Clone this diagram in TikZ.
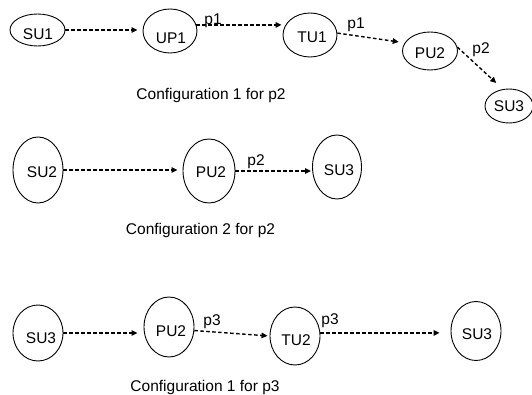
\documentclass[tikz,border=0pt]{standalone}
\usepackage{fontspec}
\setmainfont{Liberation Sans}
\usetikzlibrary{shapes.geometric,arrows.meta}
\begin{document}
\begin{tikzpicture}[x=1pt,y=-1pt,
  font=\fontsize{15.5}{18}\selectfont,
  unit/.style 2 args={draw, ellipse, line width=0.9pt, minimum width=#1pt,
    minimum height=#2pt, inner sep=0pt},
  txt/.style={anchor=base, inner sep=0pt},
  flow/.style={line width=1.4pt, dash pattern=on 3.5pt off 2.5pt,
    -{Triangle[length=6pt,width=5.5pt]}}]
\useasboundingbox (0,0) rectangle (532,395);

% ---- Configuration 1 for p2 ----
\node[unit={55}{32}] (su1) at (37.5,30) {};
\node[unit={54}{44}] (up1) at (170,31) {};
\node[unit={54}{44}] (tu1) at (310,35) {};
\node[unit={55}{38}] (pu2a) at (430,51) {};
\node[unit={48}{34}] (su3a) at (509,106) {};
\node[txt] (su1t) at (38,40) {SU1};
\node[txt] (up1t) at (171,43.5) {UP1};
\node[txt] (tu1t) at (312,42.5) {TU1};
\node[txt] (pu2at) at (430,58.5) {PU2};
\node[txt] (su3at) at (509,111.5) {SU3};

\draw[flow, shorten >=5pt] (su1.east) -- (su1.east -| up1.west);
\draw[flow, shorten >=1pt] (up1.13) -- (up1.13 -| tu1.west);
\draw[flow, shorten >=6pt] (tu1.4) -- (pu2a.162);
\draw[flow, shorten >=9pt] (pu2a.8) -- (su3a.110);
\node[txt] (l1) at (213,24.5) {p1};
\node[txt] (l2) at (356,29) {p1};
\node[txt] (l3) at (481,54) {p2};
\node[txt] (cap1) at (211,100) {Configuration 1 for p2};

% ---- Configuration 2 for p2 ----
\node[unit={50}{66}] (su2) at (38,170) {};
\node[unit={52}{64}] (pu2b) at (209,171) {};
\node[unit={49}{64}] (su3b) at (337,167) {};
\node[txt] (su2t) at (42,177.5) {SU2};
\node[txt] (pu2bt) at (211,177.5) {PU2};
\node[txt] (su3bt) at (339,175.5) {SU3};

\draw[flow, shorten >=5pt] (su2.east) -- (su2.east -| pu2b.west);
\draw[flow, shorten >=1pt] (pu2b.east) -- (pu2b.east -| su3b.west);
\node[txt] (l4) at (256,166) {p2};
\node[txt] (cap2) at (200.5,234) {Configuration 2 for p2};

% ---- Configuration 1 for p3 ----
\node[unit={50}{56}] (su3c) at (38,333) {};
\node[unit={50}{60}] (pu2c) at (169,327) {};
\node[unit={50}{58}] (tu2) at (295,336) {};
\node[unit={50}{59}] (su3d) at (476,331) {};
\node[txt] (su3ct) at (41,343.5) {SU3};
\node[txt] (pu2ct) at (171,336.5) {PU2};
\node[txt] (tu2t) at (296,345.5) {TU2};
\node[txt] (su3dt) at (477,339.5) {SU3};

\draw[flow, shorten >=6pt] (su3c.east) -- (su3c.east -| pu2c.west);
\draw[flow, shorten >=2pt] (pu2c.-8) -- (tu2.west);
\draw[flow, shorten >=11pt] (tu2.7) -- (tu2.7 -| su3d.west);
\node[txt] (l5) at (212,325) {p3};
\node[txt] (l6) at (330,324.5) {p3};
\node[txt] (cap3) at (205,391) {Configuration 1 for p3};
\end{tikzpicture}
\end{document}
